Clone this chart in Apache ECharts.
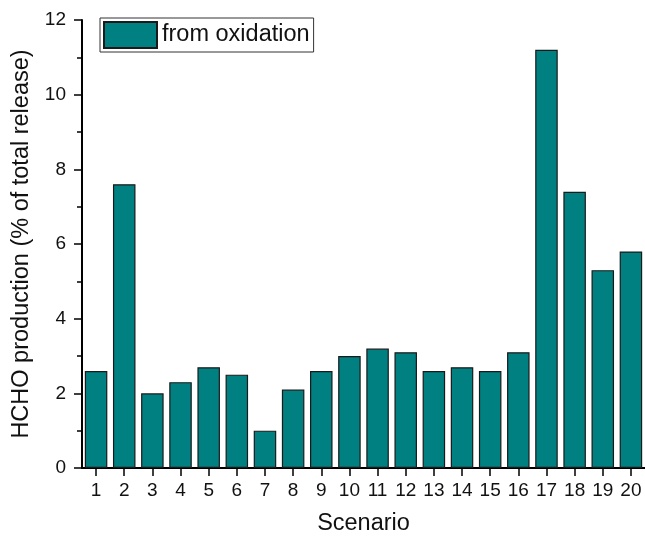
<!DOCTYPE html>
<html>
<head>
<meta charset="utf-8">
<script src="https://cdn.jsdelivr.net/npm/echarts@6/dist/echarts.min.js"></script>
<style>
html,body{margin:0;padding:0;background:#fff;}
#chart{width:645px;height:541px;}
</style>
</head>
<body>
<div id="chart"></div>
<script>
const scenarios = ['1','2','3','4','5','6','7','8','9','10','11','12','13','14','15','16','17','18','19','20'];
const fromOxidation = [2.6,7.6,2.0,2.3,2.7,2.5,1.0,2.1,2.6,3.0,3.2,3.1,2.6,2.7,2.6,3.1,11.2,7.4,5.3,5.8];
const yTicks = [0,2,4,6,8,10,12];
const seriesName = 'from oxidation';
const xTitle = 'Scenario';
const yTitle = 'HCHO production (% of total release)';

const chart = echarts.init(document.getElementById('chart'), null, {renderer:'canvas'});
const font = 'Liberation Sans, Arial, sans-serif';
chart.setOption({
  animation:false,
  backgroundColor:'#fff',
  textStyle:{fontFamily:font},
  grid:{left:82, top:20, width:567, height:456, containLabel:false},
  legend:{
    show:true, left:100, top:18, orient:'horizontal',
    data:[{name:seriesName, icon:'rect'}],
    itemWidth:53, itemHeight:26,
    padding:[3,4,3,3],
    borderColor:'#333', borderWidth:1, borderRadius:0,
    textStyle:{fontSize:23.5, color:'#111', fontFamily:font}
  },
  xAxis:{
    type:'category', data:scenarios, boundaryGap:true,
    name:xTitle, nameLocation:'middle', nameGap:44,
    nameTextStyle:{fontSize:23.5, color:'#111', fontFamily:font},
    axisLine:{show:true, lineStyle:{color:'#000', width:2}},
    axisTick:{show:true, alignWithLabel:true, length:8, lineStyle:{color:'#000', width:1.5}},
    axisLabel:{interval:0, fontSize:19, color:'#111', margin:13, fontFamily:font},
    splitLine:{show:false}
  },
  yAxis:{
    type:'value', min:0, max:12, interval:2,
    name:yTitle, nameLocation:'middle', nameGap:48, nameRotate:90,
    nameTextStyle:{fontSize:23.5, color:'#111', fontFamily:font},
    axisLine:{show:true, lineStyle:{color:'#000', width:2}},
    axisTick:{show:true, inside:false, length:8, lineStyle:{color:'#000', width:1.5}},
    minorTick:{show:true, splitNumber:2, length:5, lineStyle:{color:'#000', width:1.5}},
    axisLabel:{fontSize:19, color:'#111', margin:16, fontFamily:font, formatter:function(v){return yTicks.indexOf(v)>=0?String(v):'';}},
    splitLine:{show:false}
  },
  series:[{
    name:seriesName, type:'bar', data:fromOxidation, barWidth:'80%',
    itemStyle:{color:'#008080', borderColor:'#1a1a1a', borderWidth:1.2}
  }]
});
</script>
</body>
</html>
